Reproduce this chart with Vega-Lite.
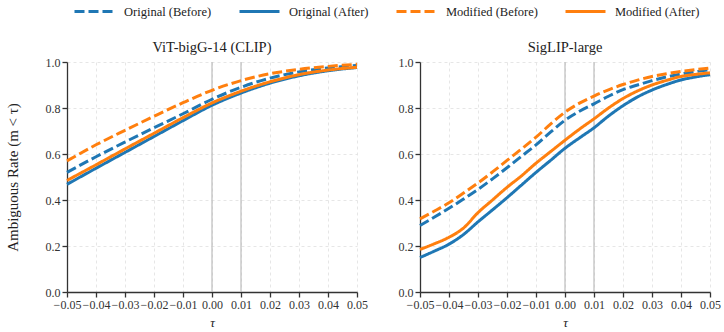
{
  "$schema": "https://vega.github.io/schema/vega-lite/v6.json",
  "background": "white",
  "padding": {"left": 5, "top": -10, "right": 0, "bottom": 2},
  "bounds": "flush",
  "spacing": 63,
  "config": {
    "font": "Liberation Serif",
    "view": {"stroke": null},
    "style": {
      "guide-label": {"font": "Liberation Serif"},
      "guide-title": {"font": "Liberation Serif"},
      "group-title": {"font": "Liberation Serif"}
    },
    "title": {"font": "Liberation Serif", "fontSize": 14.5, "fontWeight": "normal", "color": "#222", "offset": 1},
    "axis": {
      "domainColor": "#333",
      "domainWidth": 1.3,
      "tickColor": "#333",
      "tickWidth": 1.3,
      "tickSize": 5,
      "labelColor": "#333",
      "labelFontSize": 12,
      "labelFont": "Liberation Serif",
      "labelOverlap": false,
      "labelFlush": false,
      "titleFont": "Liberation Serif",
      "titleFontSize": 13,
      "titleFontWeight": "normal",
      "titleColor": "#222",
      "gridColor": "#e0e0e0",
      "gridDash": [3, 3],
      "gridWidth": 0.8
    },
    "axisX": {"labelOverlap": false},
    "legend": {
      "labelFont": "Liberation Serif",
      "labelFontSize": 12.5,
      "labelColor": "#222"
    }
  },
  "datasets": {
    "curves": [
      {"model": "ViT-bigG-14 (CLIP)", "series": "Original (Before)", "tau": -0.05, "rate": 0.52},
      {"model": "ViT-bigG-14 (CLIP)", "series": "Original (Before)", "tau": -0.04, "rate": 0.588},
      {"model": "ViT-bigG-14 (CLIP)", "series": "Original (Before)", "tau": -0.03, "rate": 0.652},
      {"model": "ViT-bigG-14 (CLIP)", "series": "Original (Before)", "tau": -0.02, "rate": 0.714},
      {"model": "ViT-bigG-14 (CLIP)", "series": "Original (Before)", "tau": -0.01, "rate": 0.775},
      {"model": "ViT-bigG-14 (CLIP)", "series": "Original (Before)", "tau": 0.0, "rate": 0.838},
      {"model": "ViT-bigG-14 (CLIP)", "series": "Original (Before)", "tau": 0.01, "rate": 0.89},
      {"model": "ViT-bigG-14 (CLIP)", "series": "Original (Before)", "tau": 0.02, "rate": 0.93},
      {"model": "ViT-bigG-14 (CLIP)", "series": "Original (Before)", "tau": 0.03, "rate": 0.957},
      {"model": "ViT-bigG-14 (CLIP)", "series": "Original (Before)", "tau": 0.04, "rate": 0.974},
      {"model": "ViT-bigG-14 (CLIP)", "series": "Original (Before)", "tau": 0.05, "rate": 0.985},

      {"model": "ViT-bigG-14 (CLIP)", "series": "Original (After)", "tau": -0.05, "rate": 0.468},
      {"model": "ViT-bigG-14 (CLIP)", "series": "Original (After)", "tau": -0.04, "rate": 0.538},
      {"model": "ViT-bigG-14 (CLIP)", "series": "Original (After)", "tau": -0.03, "rate": 0.607},
      {"model": "ViT-bigG-14 (CLIP)", "series": "Original (After)", "tau": -0.02, "rate": 0.676},
      {"model": "ViT-bigG-14 (CLIP)", "series": "Original (After)", "tau": -0.01, "rate": 0.745},
      {"model": "ViT-bigG-14 (CLIP)", "series": "Original (After)", "tau": 0.0, "rate": 0.812},
      {"model": "ViT-bigG-14 (CLIP)", "series": "Original (After)", "tau": 0.01, "rate": 0.865},
      {"model": "ViT-bigG-14 (CLIP)", "series": "Original (After)", "tau": 0.02, "rate": 0.908},
      {"model": "ViT-bigG-14 (CLIP)", "series": "Original (After)", "tau": 0.03, "rate": 0.94},
      {"model": "ViT-bigG-14 (CLIP)", "series": "Original (After)", "tau": 0.04, "rate": 0.962},
      {"model": "ViT-bigG-14 (CLIP)", "series": "Original (After)", "tau": 0.05, "rate": 0.976},

      {"model": "ViT-bigG-14 (CLIP)", "series": "Modified (Before)", "tau": -0.05, "rate": 0.57},
      {"model": "ViT-bigG-14 (CLIP)", "series": "Modified (Before)", "tau": -0.04, "rate": 0.64},
      {"model": "ViT-bigG-14 (CLIP)", "series": "Modified (Before)", "tau": -0.03, "rate": 0.703},
      {"model": "ViT-bigG-14 (CLIP)", "series": "Modified (Before)", "tau": -0.02, "rate": 0.764},
      {"model": "ViT-bigG-14 (CLIP)", "series": "Modified (Before)", "tau": -0.01, "rate": 0.823},
      {"model": "ViT-bigG-14 (CLIP)", "series": "Modified (Before)", "tau": 0.0, "rate": 0.877},
      {"model": "ViT-bigG-14 (CLIP)", "series": "Modified (Before)", "tau": 0.01, "rate": 0.919},
      {"model": "ViT-bigG-14 (CLIP)", "series": "Modified (Before)", "tau": 0.02, "rate": 0.949},
      {"model": "ViT-bigG-14 (CLIP)", "series": "Modified (Before)", "tau": 0.03, "rate": 0.968},
      {"model": "ViT-bigG-14 (CLIP)", "series": "Modified (Before)", "tau": 0.04, "rate": 0.981},
      {"model": "ViT-bigG-14 (CLIP)", "series": "Modified (Before)", "tau": 0.05, "rate": 0.99},

      {"model": "ViT-bigG-14 (CLIP)", "series": "Modified (After)", "tau": -0.05, "rate": 0.485},
      {"model": "ViT-bigG-14 (CLIP)", "series": "Modified (After)", "tau": -0.04, "rate": 0.553},
      {"model": "ViT-bigG-14 (CLIP)", "series": "Modified (After)", "tau": -0.03, "rate": 0.622},
      {"model": "ViT-bigG-14 (CLIP)", "series": "Modified (After)", "tau": -0.02, "rate": 0.69},
      {"model": "ViT-bigG-14 (CLIP)", "series": "Modified (After)", "tau": -0.01, "rate": 0.758},
      {"model": "ViT-bigG-14 (CLIP)", "series": "Modified (After)", "tau": 0.0, "rate": 0.822},
      {"model": "ViT-bigG-14 (CLIP)", "series": "Modified (After)", "tau": 0.01, "rate": 0.873},
      {"model": "ViT-bigG-14 (CLIP)", "series": "Modified (After)", "tau": 0.02, "rate": 0.914},
      {"model": "ViT-bigG-14 (CLIP)", "series": "Modified (After)", "tau": 0.03, "rate": 0.945},
      {"model": "ViT-bigG-14 (CLIP)", "series": "Modified (After)", "tau": 0.04, "rate": 0.965},
      {"model": "ViT-bigG-14 (CLIP)", "series": "Modified (After)", "tau": 0.05, "rate": 0.977},

      {"model": "SigLIP-large", "series": "Original (Before)", "tau": -0.05, "rate": 0.289},
      {"model": "SigLIP-large", "series": "Original (Before)", "tau": -0.045, "rate": 0.326},
      {"model": "SigLIP-large", "series": "Original (Before)", "tau": -0.04, "rate": 0.364},
      {"model": "SigLIP-large", "series": "Original (Before)", "tau": -0.035, "rate": 0.404},
      {"model": "SigLIP-large", "series": "Original (Before)", "tau": -0.03, "rate": 0.446},
      {"model": "SigLIP-large", "series": "Original (Before)", "tau": -0.025, "rate": 0.492},
      {"model": "SigLIP-large", "series": "Original (Before)", "tau": -0.02, "rate": 0.54},
      {"model": "SigLIP-large", "series": "Original (Before)", "tau": -0.015, "rate": 0.59},
      {"model": "SigLIP-large", "series": "Original (Before)", "tau": -0.01, "rate": 0.64},
      {"model": "SigLIP-large", "series": "Original (Before)", "tau": -0.005, "rate": 0.695},
      {"model": "SigLIP-large", "series": "Original (Before)", "tau": 0.0, "rate": 0.747},
      {"model": "SigLIP-large", "series": "Original (Before)", "tau": 0.005, "rate": 0.786},
      {"model": "SigLIP-large", "series": "Original (Before)", "tau": 0.01, "rate": 0.818},
      {"model": "SigLIP-large", "series": "Original (Before)", "tau": 0.015, "rate": 0.851},
      {"model": "SigLIP-large", "series": "Original (Before)", "tau": 0.02, "rate": 0.88},
      {"model": "SigLIP-large", "series": "Original (Before)", "tau": 0.025, "rate": 0.9},
      {"model": "SigLIP-large", "series": "Original (Before)", "tau": 0.03, "rate": 0.919},
      {"model": "SigLIP-large", "series": "Original (Before)", "tau": 0.035, "rate": 0.935},
      {"model": "SigLIP-large", "series": "Original (Before)", "tau": 0.04, "rate": 0.948},
      {"model": "SigLIP-large", "series": "Original (Before)", "tau": 0.045, "rate": 0.958},
      {"model": "SigLIP-large", "series": "Original (Before)", "tau": 0.05, "rate": 0.966},

      {"model": "SigLIP-large", "series": "Original (After)", "tau": -0.05, "rate": 0.15},
      {"model": "SigLIP-large", "series": "Original (After)", "tau": -0.045, "rate": 0.178},
      {"model": "SigLIP-large", "series": "Original (After)", "tau": -0.04, "rate": 0.208},
      {"model": "SigLIP-large", "series": "Original (After)", "tau": -0.035, "rate": 0.25},
      {"model": "SigLIP-large", "series": "Original (After)", "tau": -0.03, "rate": 0.305},
      {"model": "SigLIP-large", "series": "Original (After)", "tau": -0.025, "rate": 0.357},
      {"model": "SigLIP-large", "series": "Original (After)", "tau": -0.02, "rate": 0.41},
      {"model": "SigLIP-large", "series": "Original (After)", "tau": -0.015, "rate": 0.465},
      {"model": "SigLIP-large", "series": "Original (After)", "tau": -0.01, "rate": 0.52},
      {"model": "SigLIP-large", "series": "Original (After)", "tau": -0.005, "rate": 0.572},
      {"model": "SigLIP-large", "series": "Original (After)", "tau": 0.0, "rate": 0.625},
      {"model": "SigLIP-large", "series": "Original (After)", "tau": 0.005, "rate": 0.67},
      {"model": "SigLIP-large", "series": "Original (After)", "tau": 0.01, "rate": 0.714},
      {"model": "SigLIP-large", "series": "Original (After)", "tau": 0.015, "rate": 0.765},
      {"model": "SigLIP-large", "series": "Original (After)", "tau": 0.02, "rate": 0.81},
      {"model": "SigLIP-large", "series": "Original (After)", "tau": 0.025, "rate": 0.848},
      {"model": "SigLIP-large", "series": "Original (After)", "tau": 0.03, "rate": 0.878},
      {"model": "SigLIP-large", "series": "Original (After)", "tau": 0.035, "rate": 0.902},
      {"model": "SigLIP-large", "series": "Original (After)", "tau": 0.04, "rate": 0.922},
      {"model": "SigLIP-large", "series": "Original (After)", "tau": 0.045, "rate": 0.935},
      {"model": "SigLIP-large", "series": "Original (After)", "tau": 0.05, "rate": 0.945},

      {"model": "SigLIP-large", "series": "Modified (Before)", "tau": -0.05, "rate": 0.318},
      {"model": "SigLIP-large", "series": "Modified (Before)", "tau": -0.045, "rate": 0.352},
      {"model": "SigLIP-large", "series": "Modified (Before)", "tau": -0.04, "rate": 0.388},
      {"model": "SigLIP-large", "series": "Modified (Before)", "tau": -0.035, "rate": 0.43},
      {"model": "SigLIP-large", "series": "Modified (Before)", "tau": -0.03, "rate": 0.474},
      {"model": "SigLIP-large", "series": "Modified (Before)", "tau": -0.025, "rate": 0.522},
      {"model": "SigLIP-large", "series": "Modified (Before)", "tau": -0.02, "rate": 0.572},
      {"model": "SigLIP-large", "series": "Modified (Before)", "tau": -0.015, "rate": 0.622},
      {"model": "SigLIP-large", "series": "Modified (Before)", "tau": -0.01, "rate": 0.673},
      {"model": "SigLIP-large", "series": "Modified (Before)", "tau": -0.005, "rate": 0.73},
      {"model": "SigLIP-large", "series": "Modified (Before)", "tau": 0.0, "rate": 0.782},
      {"model": "SigLIP-large", "series": "Modified (Before)", "tau": 0.005, "rate": 0.821},
      {"model": "SigLIP-large", "series": "Modified (Before)", "tau": 0.01, "rate": 0.852},
      {"model": "SigLIP-large", "series": "Modified (Before)", "tau": 0.015, "rate": 0.879},
      {"model": "SigLIP-large", "series": "Modified (Before)", "tau": 0.02, "rate": 0.902},
      {"model": "SigLIP-large", "series": "Modified (Before)", "tau": 0.025, "rate": 0.921},
      {"model": "SigLIP-large", "series": "Modified (Before)", "tau": 0.03, "rate": 0.937},
      {"model": "SigLIP-large", "series": "Modified (Before)", "tau": 0.035, "rate": 0.949},
      {"model": "SigLIP-large", "series": "Modified (Before)", "tau": 0.04, "rate": 0.959},
      {"model": "SigLIP-large", "series": "Modified (Before)", "tau": 0.045, "rate": 0.967},
      {"model": "SigLIP-large", "series": "Modified (Before)", "tau": 0.05, "rate": 0.974},

      {"model": "SigLIP-large", "series": "Modified (After)", "tau": -0.05, "rate": 0.185},
      {"model": "SigLIP-large", "series": "Modified (After)", "tau": -0.045, "rate": 0.21},
      {"model": "SigLIP-large", "series": "Modified (After)", "tau": -0.04, "rate": 0.238},
      {"model": "SigLIP-large", "series": "Modified (After)", "tau": -0.035, "rate": 0.278},
      {"model": "SigLIP-large", "series": "Modified (After)", "tau": -0.03, "rate": 0.345},
      {"model": "SigLIP-large", "series": "Modified (After)", "tau": -0.025, "rate": 0.4},
      {"model": "SigLIP-large", "series": "Modified (After)", "tau": -0.02, "rate": 0.455},
      {"model": "SigLIP-large", "series": "Modified (After)", "tau": -0.015, "rate": 0.505},
      {"model": "SigLIP-large", "series": "Modified (After)", "tau": -0.01, "rate": 0.56},
      {"model": "SigLIP-large", "series": "Modified (After)", "tau": -0.005, "rate": 0.61},
      {"model": "SigLIP-large", "series": "Modified (After)", "tau": 0.0, "rate": 0.66},
      {"model": "SigLIP-large", "series": "Modified (After)", "tau": 0.005, "rate": 0.708},
      {"model": "SigLIP-large", "series": "Modified (After)", "tau": 0.01, "rate": 0.753},
      {"model": "SigLIP-large", "series": "Modified (After)", "tau": 0.015, "rate": 0.8},
      {"model": "SigLIP-large", "series": "Modified (After)", "tau": 0.02, "rate": 0.841},
      {"model": "SigLIP-large", "series": "Modified (After)", "tau": 0.025, "rate": 0.874},
      {"model": "SigLIP-large", "series": "Modified (After)", "tau": 0.03, "rate": 0.9},
      {"model": "SigLIP-large", "series": "Modified (After)", "tau": 0.035, "rate": 0.92},
      {"model": "SigLIP-large", "series": "Modified (After)", "tau": 0.04, "rate": 0.937},
      {"model": "SigLIP-large", "series": "Modified (After)", "tau": 0.045, "rate": 0.946},
      {"model": "SigLIP-large", "series": "Modified (After)", "tau": 0.05, "rate": 0.953}
    ],
    "refs": [{"tau": 0.0}, {"tau": 0.01}]
  },
  "hconcat": [
    {
      "title": "ViT-bigG-14 (CLIP)",
      "width": 290,
      "height": 230,
      "layer": [
        {
          "data": {"name": "refs"},
          "mark": {"type": "rule", "color": "#bdbdbd", "strokeWidth": 1.2},
          "encoding": {
            "x": {
              "field": "tau", "type": "quantitative",
              "scale": {"domain": [-0.05, 0.05], "nice": false, "zero": false},
              "axis": {"values": [-0.05, -0.04, -0.03, -0.02, -0.01, 0, 0.01, 0.02, 0.03, 0.04, 0.05], "format": ".2f", "labelOverlap": false, "labelFlush": false, "title": "τ", "titleFontStyle": "italic", "titlePadding": 6}
            }
          }
        },
        {
          "data": {"name": "curves"},
          "transform": [{"filter": "datum.model === 'ViT-bigG-14 (CLIP)'"}],
          "mark": {"type": "line", "strokeWidth": 3, "interpolate": "monotone"},
          "encoding": {
            "x": {
              "field": "tau", "type": "quantitative",
              "scale": {"domain": [-0.05, 0.05], "nice": false, "zero": false},
              "axis": {"values": [-0.05, -0.04, -0.03, -0.02, -0.01, 0, 0.01, 0.02, 0.03, 0.04, 0.05], "format": ".2f", "labelOverlap": false, "labelFlush": false, "title": "τ", "titleFontStyle": "italic", "titlePadding": 6}
            },
            "y": {
              "field": "rate", "type": "quantitative",
              "scale": {"domain": [0, 1], "nice": false},
              "axis": {"values": [0, 0.2, 0.4, 0.6, 0.8, 1.0], "format": ".1f", "title": "Ambiguous Rate   (m < τ)", "titleFontSize": 15, "titlePadding": 25}
            },
            "color": {
              "field": "series", "type": "nominal",
              "scale": {"domain": ["Original (Before)", "Original (After)", "Modified (Before)", "Modified (After)"], "range": ["#1f77b4", "#1f77b4", "#ff7f0e", "#ff7f0e"]},
              "legend": {"orient": "none", "direction": "horizontal", "legendX": 6, "legendY": -72, "title": null, "symbolType": "stroke", "symbolSize": 1600, "symbolStrokeWidth": 3, "labelOffset": 8, "columnPadding": 21, "labelFont": "Liberation Serif"}
            },
            "strokeDash": {
              "field": "series", "type": "nominal",
              "scale": {"domain": ["Original (Before)", "Original (After)", "Modified (Before)", "Modified (After)"], "range": [[10, 4], [1, 0], [10, 4], [1, 0]]},
              "legend": null
            }
          }
        }
      ]
    },
    {
      "title": "SigLIP-large",
      "width": 290,
      "height": 230,
      "layer": [
        {
          "data": {"name": "refs"},
          "mark": {"type": "rule", "color": "#bdbdbd", "strokeWidth": 1.2},
          "encoding": {
            "x": {
              "field": "tau", "type": "quantitative",
              "scale": {"domain": [-0.05, 0.05], "nice": false, "zero": false},
              "axis": {"values": [-0.05, -0.04, -0.03, -0.02, -0.01, 0, 0.01, 0.02, 0.03, 0.04, 0.05], "format": ".2f", "labelOverlap": false, "labelFlush": false, "title": "τ", "titleFontStyle": "italic", "titlePadding": 6}
            }
          }
        },
        {
          "data": {"name": "curves"},
          "transform": [{"filter": "datum.model === 'SigLIP-large'"}],
          "mark": {"type": "line", "strokeWidth": 3, "interpolate": "monotone"},
          "encoding": {
            "x": {
              "field": "tau", "type": "quantitative",
              "scale": {"domain": [-0.05, 0.05], "nice": false, "zero": false},
              "axis": {"values": [-0.05, -0.04, -0.03, -0.02, -0.01, 0, 0.01, 0.02, 0.03, 0.04, 0.05], "format": ".2f", "labelOverlap": false, "labelFlush": false, "title": "τ", "titleFontStyle": "italic", "titlePadding": 6}
            },
            "y": {
              "field": "rate", "type": "quantitative",
              "scale": {"domain": [0, 1], "nice": false},
              "axis": {"values": [0, 0.2, 0.4, 0.6, 0.8, 1.0], "format": ".1f", "title": null}
            },
            "color": {"field": "series", "type": "nominal"},
            "strokeDash": {"field": "series", "type": "nominal"}
          }
        }
      ]
    }
  ]
}
